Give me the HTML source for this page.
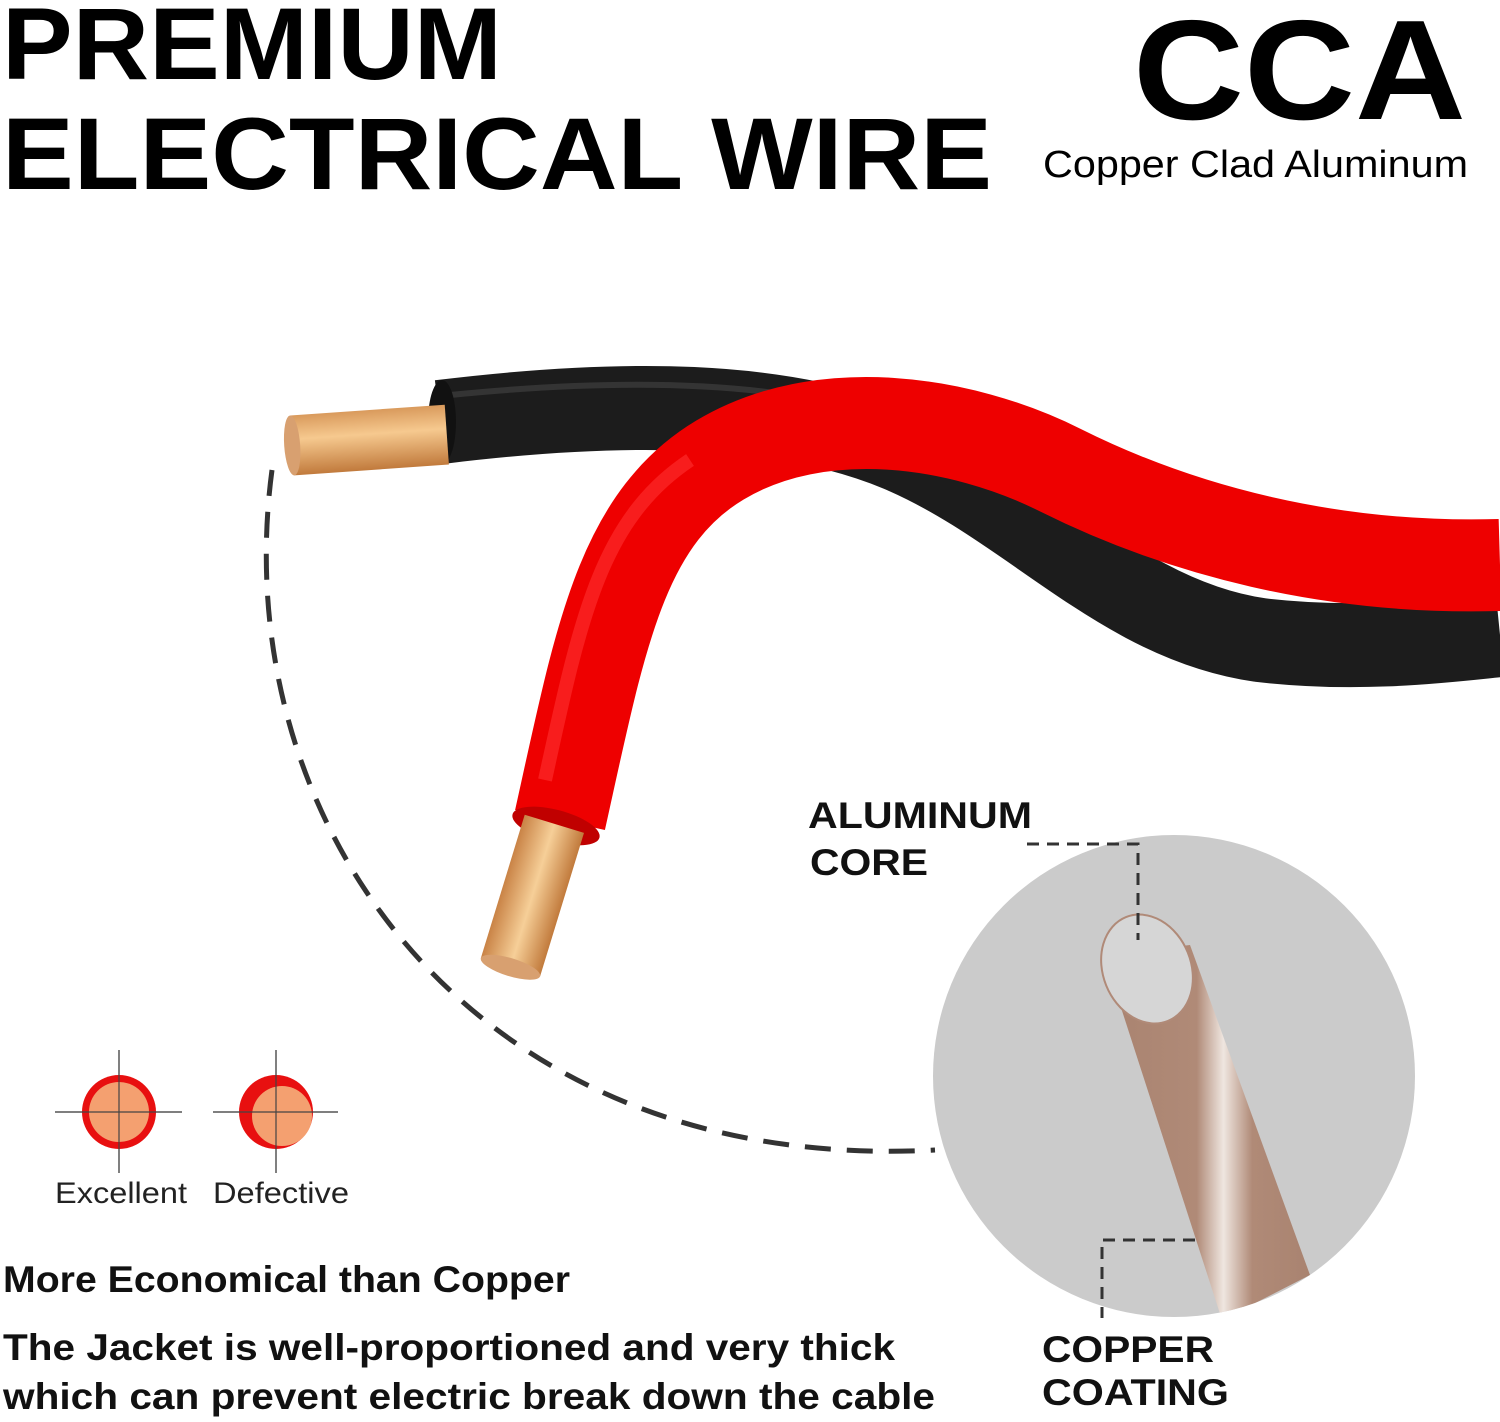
<!DOCTYPE html>
<html><head><style>
html,body{margin:0;padding:0;background:#fff;}
svg{display:block;}
text{font-family:"Liberation Sans",Arial,sans-serif;}
</style></head><body>
<svg width="1500" height="1422" viewBox="0 0 1500 1422" xmlns="http://www.w3.org/2000/svg">
<defs>
<linearGradient id="cu" x1="0" y1="0" x2="0" y2="1">
<stop offset="0" stop-color="#d99a5c"/><stop offset="0.4" stop-color="#f6c98f"/><stop offset="1" stop-color="#c17a3c"/>
</linearGradient>
<linearGradient id="cu2" x1="0" y1="0" x2="1" y2="0">
<stop offset="0" stop-color="#c98346"/><stop offset="0.5" stop-color="#f6cf98"/><stop offset="1" stop-color="#c17a3c"/>
</linearGradient>
<linearGradient id="rod" x1="0" y1="0" x2="1" y2="0">
<stop offset="0" stop-color="#a98370"/><stop offset="0.45" stop-color="#b08a77"/><stop offset="0.58" stop-color="#efe6e0"/><stop offset="0.72" stop-color="#b08a77"/><stop offset="1" stop-color="#a98370"/>
</linearGradient>
</defs>

<text x="2" y="79" font-size="102" font-weight="bold" textLength="500" lengthAdjust="spacingAndGlyphs">PREMIUM</text>
<text x="2" y="189" font-size="102" font-weight="bold" textLength="990" lengthAdjust="spacingAndGlyphs">ELECTRICAL WIRE</text>
<text x="1133" y="119" font-size="142" font-weight="bold" textLength="333" lengthAdjust="spacingAndGlyphs">CCA</text>
<text x="1043" y="177" font-size="38" textLength="425" lengthAdjust="spacingAndGlyphs">Copper Clad Aluminum</text>

<path d="M440,422 C620,400 780,400 900,450 C1030,505 1120,620 1260,640 C1360,652 1450,640 1500,635" fill="none" stroke="#1c1c1c" stroke-width="84"/>
<path d="M450,395 C620,378 760,382 860,410" fill="none" stroke="#444" stroke-width="6" opacity="0.6"/>
<ellipse cx="442" cy="422" rx="14" ry="42" fill="#111"/>
<g transform="rotate(-4 370 440)">
<rect x="292" y="410" width="155" height="60" fill="url(#cu)"/>
<ellipse cx="292" cy="440" rx="8" ry="30" fill="#d8a070"/>
</g>

<path d="M560,820 C600,640 620,520 720,460 C820,400 960,420 1060,470 C1180,530 1330,570 1500,565" fill="none" stroke="#ee0000" stroke-width="92"/>
<path d="M545,780 C580,620 600,520 690,460" fill="none" stroke="#ff3030" stroke-width="14" opacity="0.6"/>
<ellipse cx="556" cy="826" rx="45" ry="16" transform="rotate(15 556 826)" fill="#c00000"/>
<g transform="rotate(17 530 900)">
<rect x="500" y="820" width="62" height="150" fill="url(#cu2)"/>
<ellipse cx="531" cy="970" rx="31" ry="9" fill="#d8a070"/>
</g>

<path d="M272,470 C225,820 470,1175 935,1150" fill="none" stroke="#333" stroke-width="5" stroke-dasharray="26,16"/>

<circle cx="1174" cy="1076" r="241" fill="#cbcbcb"/>
<clipPath id="cc"><circle cx="1174" cy="1076" r="241"/></clipPath>
<g clip-path="url(#cc)">
<polygon points="1104,955 1190,945 1310,1275 1222,1320" fill="url(#rod)"/>
<ellipse cx="1147" cy="969" rx="44" ry="56" transform="rotate(-22 1147 969)" fill="#d6d6d6" stroke="#b08a78" stroke-width="2"/>
</g>

<path d="M1027,844 H1138 V940" fill="none" stroke="#333" stroke-width="3" stroke-dasharray="12,8"/>
<path d="M1195,1240 H1102 V1318" fill="none" stroke="#333" stroke-width="3" stroke-dasharray="12,8"/>

<text x="808" y="828" font-size="37" font-weight="bold" fill="#111" textLength="224" lengthAdjust="spacingAndGlyphs">ALUMINUM</text>
<text x="810" y="875" font-size="37" font-weight="bold" fill="#111" textLength="118" lengthAdjust="spacingAndGlyphs">CORE</text>
<text x="1042" y="1362" font-size="37" font-weight="bold" fill="#111" textLength="172" lengthAdjust="spacingAndGlyphs">COPPER</text>
<text x="1042" y="1405" font-size="37" font-weight="bold" fill="#111" textLength="187" lengthAdjust="spacingAndGlyphs">COATING</text>

<g stroke="#555" stroke-width="1.5">
<line x1="55" y1="1112" x2="182" y2="1112"/><line x1="119" y1="1050" x2="119" y2="1173"/>
<line x1="213" y1="1112" x2="338" y2="1112"/><line x1="276" y1="1050" x2="276" y2="1173"/>
</g>
<circle cx="119" cy="1112" r="37" fill="#e81010"/>
<circle cx="119" cy="1112" r="30" fill="#f4a070"/>
<circle cx="276" cy="1112" r="37" fill="#e81010"/>
<circle cx="282" cy="1116" r="30" fill="#f4a070"/>
<g stroke="#444" stroke-width="1.2">
<line x1="82" y1="1112" x2="156" y2="1112"/><line x1="119" y1="1075" x2="119" y2="1149"/>
<line x1="239" y1="1112" x2="313" y2="1112"/><line x1="276" y1="1075" x2="276" y2="1149"/>
</g>
<text x="55" y="1203" font-size="30" fill="#222" textLength="132" lengthAdjust="spacingAndGlyphs">Excellent</text>
<text x="213" y="1203" font-size="30" fill="#222" textLength="136" lengthAdjust="spacingAndGlyphs">Defective</text>

<text x="3" y="1292" font-size="37" font-weight="bold" fill="#111" textLength="567" lengthAdjust="spacingAndGlyphs">More Economical than Copper</text>
<text x="3" y="1360" font-size="37" font-weight="bold" fill="#111" textLength="892" lengthAdjust="spacingAndGlyphs">The Jacket is well-proportioned and very thick</text>
<text x="3" y="1409" font-size="37" font-weight="bold" fill="#111" textLength="932" lengthAdjust="spacingAndGlyphs">which can prevent electric break down the cable</text>
</svg>
</body></html>
